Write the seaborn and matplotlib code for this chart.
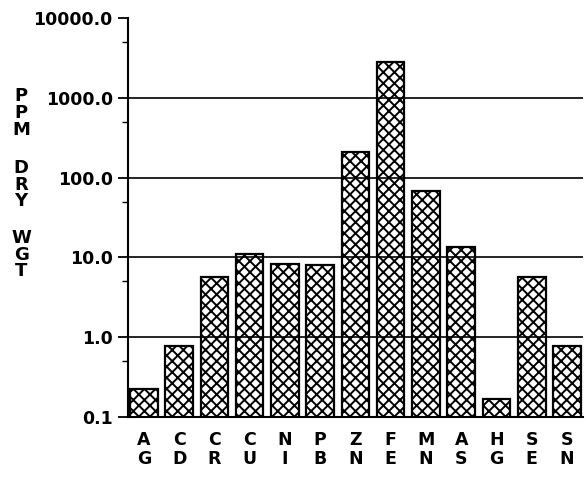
import matplotlib
matplotlib.use("Agg")
import matplotlib.pyplot as plt
import matplotlib.ticker as mticker
import pandas as pd
import seaborn as sns

# element codes (two letters, drawn stacked) and concentrations, ppm dry weight
elements = ["AG", "CD", "CR", "CU", "NI", "PB", "ZN", "FE", "MN", "AS", "HG", "SE", "SN"]
ppm = [0.22, 0.77, 5.7, 11.0, 8.2, 7.9, 210.0, 2800.0, 68.0, 13.3, 0.165, 5.6, 0.77]
decades = [0.1, 1.0, 10.0, 100.0, 1000.0, 10000.0]
half_decades = [0.5, 5.0, 50.0, 500.0, 5000.0]

df = pd.DataFrame({"element": elements, "ppm": ppm})

sns.set_style("white")
plt.rcParams["font.family"] = ["DejaVu Sans"]
plt.rcParams["hatch.linewidth"] = 1.4
plt.rcParams["text.color"] = "black"
plt.rcParams["xtick.color"] = "black"
plt.rcParams["ytick.color"] = "black"

fig = plt.figure(figsize=(5.87, 4.79), dpi=100)
ax = fig.add_axes([0.218, 0.130, 0.775, 0.832])

sns.barplot(data=df, x="element", y="ppm", color="white", width=0.78,
            edgecolor="black", linewidth=1.6, ax=ax)
for p in ax.patches:
    p.set_hatch("xxx")
    p.set_facecolor("white")

ax.set_yscale("log")
ax.set_ylim(decades[0], decades[-1])
ax.set_xlim(-0.45, len(elements) - 0.55)

# horizontal rules at the inner decades, drawn over the bars
for d in decades[1:-1]:
    ax.axhline(d, color="black", lw=1.2, zorder=5)

ax.yaxis.set_major_locator(mticker.FixedLocator(decades))
ax.yaxis.set_minor_locator(mticker.FixedLocator(half_decades))
ax.yaxis.set_major_formatter(mticker.FuncFormatter(lambda v, _: f"{v:.1f}"))
ax.yaxis.set_minor_formatter(mticker.NullFormatter())
ax.tick_params(axis="y", which="major", direction="out", length=7, width=1.3,
               left=True, labelsize=12.5, pad=4, labelcolor="black")
ax.tick_params(axis="y", which="minor", direction="out", length=4, width=1.0, left=True)
for t in ax.get_yticklabels():
    t.set_fontweight("bold")

ax.set_xticks(range(len(elements)))
ax.set_xticklabels([e[0] + "\n" + e[1] for e in elements], fontsize=12.5,
                   fontweight="bold", linespacing=1.1, color="black")
ax.tick_params(axis="x", length=0, pad=10)

for side in ["top", "right"]:
    ax.spines[side].set_visible(False)
for side in ["left", "bottom"]:
    ax.spines[side].set_color("black")
    ax.spines[side].set_linewidth(1.5)

ax.set_xlabel("")
ax.set_ylabel("")

# stacked y-axis title
for word, yc in [("PPM", 0.764), ("DRY", 0.614), ("WGT", 0.468)]:
    fig.text(0.036, yc, "\n".join(word), ha="center", va="center",
             fontsize=13, fontweight="bold", linespacing=0.9, color="black")

fig.savefig("out.png", dpi=100)
